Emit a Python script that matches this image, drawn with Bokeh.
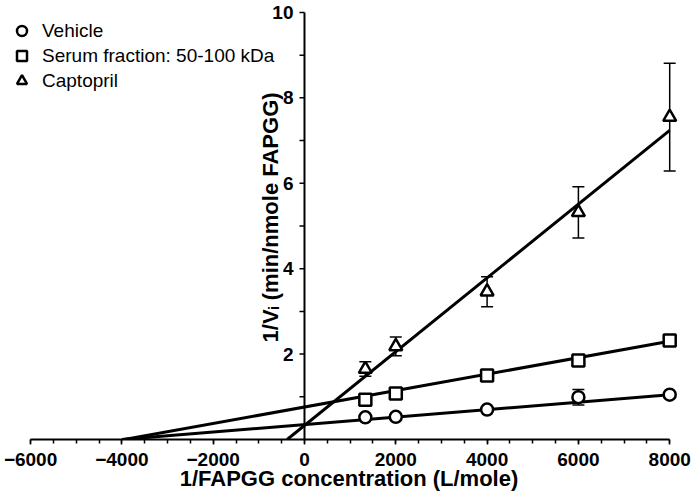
import numpy as np
from bokeh.plotting import figure
from bokeh.models import (ColumnDataSource, Range1d, FixedTicker, Whisker, TeeHead,
                          Legend, LegendItem, LabelSet, Label)
from bokeh.core.properties import value
from bokeh.embed import file_html
from bokeh.resources import INLINE

# ---- data ----
conc = [1333, 2000, 4000, 6000, 8000]
vehicle = [0.52, 0.53, 0.70, 0.99, 1.05]
vehicle_err = [0.03, 0.03, 0.04, 0.18, 0.04]
serum = [0.93, 1.08, 1.50, 1.85, 2.32]
serum_err = [0.04, 0.05, 0.05, 0.06, 0.06]
captopril = [1.65, 2.18, 3.46, 5.32, 7.55]
captopril_err = [0.17, 0.22, 0.35, 0.60, 1.26]
series_names = ["Vehicle", "Serum fraction: 50-100 kDa", "Captopril"]
series_markers = ["circle", "square", "triangle"]
fit_slope = [8.75e-5, 1.925e-4, 8.64e-4]
fit_intercept = [0.35, 0.76, 0.328]
x_ticks = [-6000, -4000, -2000, 0, 2000, 4000, 6000, 8000]
x_minor = [-6000, -5500, -5000, -4500, -4000, -3500, -3000, -2500, -2000, -1500,
           -1000, -500, 0, 500, 1000, 1500, 2000, 2500, 3000, 3500, 4000, 4500,
           5000, 5500, 6000, 6500, 7000, 7500, 8000]
y_ticks = [2, 4, 6, 8, 10]
y_minor = [1, 3, 5, 7, 9]
x_title = "1/FAPGG concentration (L/mole)"
y_title = "1/V\u1d62 (min/nmole FAPGG)"

FONT = "Liberation Sans"

p = figure(width=697, height=504, output_backend="svg", toolbar_location=None,
           x_range=Range1d(-6659, 8609), y_range=Range1d(0, 10.28),
           y_axis_location=None,
           min_border_left=0, min_border_right=0, min_border_top=0, min_border_bottom=65)
p.grid.visible = False
p.outline_line_color = None
p.background_fill_color = "white"

xa = p.xaxis[0]
xa.ticker = FixedTicker(ticks=x_ticks, minor_ticks=x_minor)
xa.bounds = (x_ticks[0], x_ticks[-1])
xa.axis_line_width = 2
xa.axis_line_color = "black"
xa.major_tick_in = 0
xa.major_tick_out = 5
xa.minor_tick_in = 0
xa.minor_tick_out = 4
xa.major_tick_line_width = 1.5
xa.minor_tick_line_width = 1.5
xa.major_tick_line_color = "black"
xa.minor_tick_line_color = "black"
xa.major_label_text_font = FONT
xa.major_label_text_font_size = "19px"
xa.major_label_text_font_style = "bold"
xa.major_label_text_color = "black"
xa.major_label_standoff = 8
xa.axis_label = x_title
xa.axis_label_text_font = FONT
xa.axis_label_text_font_size = "22px"
xa.axis_label_text_font_style = "bold"
xa.axis_label_text_color = "black"
xa.axis_label_standoff = -3

# ---- y axis drawn at x = 0 ----
p.segment(x0=[0], y0=[0], x1=[0], y1=[y_ticks[-1]], line_width=2, color="black")
p.ray(x=[0] * (len(y_ticks) + len(y_minor)), y=y_ticks + y_minor, length=5,
      length_units="screen", angle=np.pi, line_width=1.5, color="black")
ysrc = ColumnDataSource(dict(x=[0] * len(y_ticks), y=y_ticks, t=[str(v) for v in y_ticks]))
p.add_layout(LabelSet(source=ysrc, x="x", y="y", text="t", x_offset=-11,
                      text_align="right", text_baseline="middle",
                      text_font=value(FONT), text_font_size=value("19px"),
                      text_font_style=value("bold"), text_color="black"))
p.add_layout(Label(x=0, y=5.2, x_offset=-34, angle=np.pi / 2, text=y_title,
                   text_align="center", text_baseline="middle", text_font=FONT,
                   text_font_size="22px", text_font_style="bold", text_color="black"))

# ---- series ----
series_y = [vehicle, serum, captopril]
series_err = [vehicle_err, serum_err, captopril_err]
items = []
for name, mk, ys, es, m, b in zip(series_names, series_markers, series_y, series_err,
                                  fit_slope, fit_intercept):
    x0 = -b / m
    x1 = conc[-1]
    p.line([x0, x1], [m * x0 + b, m * x1 + b], line_width=3, color="black")
    src = ColumnDataSource(dict(x=conc, y=ys,
                                upper=[v + e for v, e in zip(ys, es)],
                                lower=[v - e for v, e in zip(ys, es)]))
    w = Whisker(source=src, base="x", upper="upper", lower="lower", dimension="height",
                line_width=1.5, line_color="black",
                upper_head=TeeHead(size=12, line_width=1.5, line_color="black"),
                lower_head=TeeHead(size=12, line_width=1.5, line_color="black"))
    p.add_layout(w)
    r = p.scatter("x", "y", source=src, marker=mk, size=13 if mk == "triangle" else 12,
                  fill_color="white", line_color="black", line_width=2.5)
    items.append(LegendItem(label=name, renderers=[r]))

legend = Legend(items=items, location=(9, 346), glyph_width=25, glyph_height=25,
                label_height=25, label_standoff=8, padding=0, margin=0, spacing=0,
                border_line_color=None, background_fill_alpha=0,
                label_text_font=FONT, label_text_font_size="19px", label_text_color="black")
p.add_layout(legend)

open("out.html", "w").write(file_html(p, INLINE))
